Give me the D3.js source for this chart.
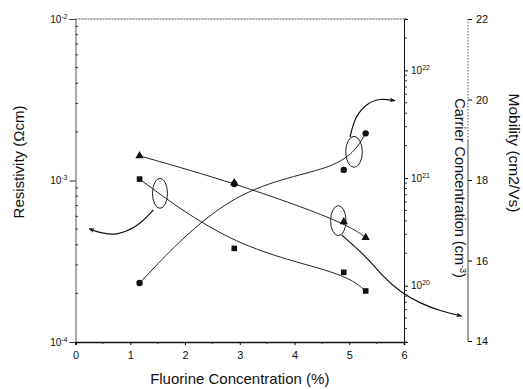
<!DOCTYPE html>
<html><head><meta charset="utf-8">
<script src="https://cdn.jsdelivr.net/npm/d3@7"></script>
<style>body{margin:0;background:#fff}svg{display:block}text{font-family:"Liberation Sans",Arial,sans-serif;fill:#111}</style>
</head><body><svg id="c" width="523" height="389"></svg>
<script>
// ---- data ----
const fluorine = [1.17, 2.9, 4.9, 5.3];               // %
const resistivity = [1.02e-3, 3.8e-4, 2.7e-4, 2.07e-4]; // ohm cm (squares)
const carrier = [1.06e20, 8.8e20, 1.19e21, 2.6e21];     // cm^-3 (circles)
const mobility = [18.6, 17.93, 16.96, 16.57];           // cm2/Vs (triangles)
const xTicks = [0, 1, 2, 3, 4, 5, 6];
const resTicks = [-4, -3, -2];      // exponents
const carTicks = [20, 21, 22];      // exponents
const mobTicks = [14, 16, 18, 20, 22];
// annotations (x in %, y in mobility units)
const ellipses = [
  {x: 1.543, y: 17.67, rx: 7.5, ry: 15},
  {x: 5.087, y: 18.70, rx: 8.3, ry: 15.5},
  {x: 4.80, y: 16.99, rx: 7.7, ry: 15}
];
const arrowRes = [[1.421,17.255],[1.15,16.85],[0.758,16.621],[0.447,16.683],[0.25,16.79]];
const arrowCar = [[5.014,19.068],[5.105,19.573],[5.319,19.906],[5.562,20.030],[5.836,19.970]];
const arrowMob = [[4.862,16.634],[5.319,16.087],[5.622,15.590],[5.927,15.225],[6.292,14.937],[6.658,14.746],[7.054,14.621]];

const svg = d3.select("#c");
const L = 75.5, R = 404, T = 19, B = 342, MX = 468;
const x = d3.scaleLinear().domain([0, 6]).range([L, R]);
const yRes = d3.scaleLog().domain([1e-4, 1e-2]).range([B, T]);
const yCar = d3.scaleLog().domain([3e19, 3e22]).range([B, T]);
const yMob = d3.scaleLinear().domain([14, 22]).range([B - 1, T]);

svg.append("defs").append("marker").attr("id","ah").attr("viewBox","0 0 10 10")
  .attr("refX",9).attr("refY",5).attr("markerWidth",6).attr("markerHeight",6)
  .attr("orient","auto").attr("markerUnits","userSpaceOnUse")
  .append("path").attr("d","M0,1 L10,5 L0,9 L3,5 Z").attr("fill","#111");

function supLabel(sel, base, exp, fs) {
  sel.text(null);
  sel.append("tspan").text(base);
  sel.append("tspan").attr("dy", -4).attr("font-size", fs).text(exp);
}

// top dashed border
svg.append("line").attr("x1", L).attr("x2", R).attr("y1", T).attr("y2", T)
  .attr("stroke", "#444").attr("stroke-dasharray", "2,1").attr("stroke-width", 1);

// left axis
const gL = svg.append("g").attr("transform", `translate(${L},0)`)
  .call(d3.axisLeft(yRes).tickValues(resTicks.map(e => Math.pow(10, e))).tickSize(6).tickFormat(""));
gL.select(".domain").attr("stroke", "#555");
gL.selectAll(".tick line").attr("stroke", "#333");
gL.selectAll(".tick").append("text").attr("x", -8).attr("dy", "0.32em").attr("text-anchor", "end")
  .attr("font-size", 10).each(function(d){ supLabel(d3.select(this), "10", String(Math.round(Math.log10(d))), 7); });
const resMinor = [];
for (let e = -4; e < -2; e++) for (let m = 2; m <= 9; m++) resMinor.push(m * Math.pow(10, e));
svg.append("g").selectAll("line").data(resMinor).join("line")
  .attr("x1", L).attr("x2", L + 2.5).attr("y1", d => yRes(d)).attr("y2", d => yRes(d)).attr("stroke", "#333");

// bottom axis
const gB = svg.append("g").attr("transform", `translate(0,${B})`)
  .call(d3.axisBottom(x).tickValues(xTicks).tickSize(3).tickPadding(6).tickFormat(d3.format("d")));
gB.select(".domain").attr("stroke", "#111").attr("stroke-width", 1.5);
gB.selectAll(".tick text").attr("font-size", 11).style("font-family", '"Liberation Sans",Arial,sans-serif');
svg.append("g").selectAll("line").data(xTicks.slice(0, -1).map(d => d + 0.5)).join("line")
  .attr("x1", d => x(d)).attr("x2", d => x(d)).attr("y1", B).attr("y2", B + 2).attr("stroke", "#333");

// carrier axis (right)
const gC = svg.append("g").attr("transform", `translate(${R},0)`)
  .call(d3.axisRight(yCar).tickValues(carTicks.map(e => Math.pow(10, e))).tickSize(4).tickFormat(""));
gC.select(".domain").attr("stroke", "#111");
gC.selectAll(".tick").append("text").attr("x", 7).attr("dy", "0.32em").attr("text-anchor", "start")
  .attr("font-size", 10).each(function(d){ supLabel(d3.select(this), "10", String(Math.round(Math.log10(d))), 7); });
const carMinor = [];
for (let e = 19; e <= 22; e++) for (let m = 2; m <= 9; m++) { const v = m * Math.pow(10, e); if (v >= 3e19 && v <= 3e22) carMinor.push(v); }
svg.append("g").selectAll("line").data(carMinor).join("line")
  .attr("x1", R).attr("x2", R + 3).attr("y1", d => yCar(d)).attr("y2", d => yCar(d)).attr("stroke", "#333");

// mobility axis
const gM = svg.append("g").attr("transform", `translate(${MX},0)`)
  .call(d3.axisRight(yMob).tickValues(mobTicks).tickSize(4).tickPadding(4).tickFormat(d3.format("d")));
gM.select(".domain").remove();
gM.selectAll(".tick text").attr("font-size", 11).style("font-family", '"Liberation Sans",Arial,sans-serif');
svg.append("line").attr("x1", MX).attr("x2", MX).attr("y1", yMob(22)).attr("y2", yMob(19))
  .attr("stroke", "#555").attr("stroke-dasharray", "1.5,1.5");
svg.append("line").attr("x1", MX).attr("x2", MX).attr("y1", yMob(19)).attr("y2", yMob(14)).attr("stroke", "#444");

// axis titles
svg.append("text").attr("transform", "translate(24,162) rotate(-90)").attr("text-anchor", "middle")
  .attr("font-size", 15).text("Resistivity (Ωcm)");
svg.append("text").attr("x", (L + R) / 2).attr("y", 384).attr("text-anchor", "middle")
  .attr("font-size", 15).text("Fluorine Concentration (%)");
const tc = svg.append("text").attr("transform", "translate(455,188) rotate(90)").attr("text-anchor", "middle").attr("font-size", 14.5);
tc.append("tspan").text("Carrier Concentration (cm");
tc.append("tspan").attr("dy", -5).attr("font-size", 9).text("-3");
tc.append("tspan").attr("dy", 5).text(")");
svg.append("text").attr("transform", "translate(509,153) rotate(90)").attr("text-anchor", "middle")
  .attr("font-size", 15.5).text("Mobility (cm2/Vs)");

// curves
const lineRes = d3.line().x((d, i) => x(fluorine[i])).y(d => yRes(d)).curve(d3.curveBasis);
const lineCar = d3.line().x((d, i) => x(fluorine[i])).y(d => yCar(d)).curve(d3.curveBasis);
const lineMob = d3.line().x((d, i) => x(fluorine[i])).y(d => yMob(d)).curve(d3.curveBasis);
const lineAnn = d3.line().x(d => x(d[0])).y(d => yMob(d[1])).curve(d3.curveBasis);
svg.append("path").attr("d", lineRes(resistivity)).attr("fill", "none").attr("stroke", "#222").attr("stroke-width", 1);
svg.append("path").attr("d", lineCar(carrier)).attr("fill", "none").attr("stroke", "#222").attr("stroke-width", 1);
svg.append("path").attr("d", lineMob(mobility)).attr("fill", "none").attr("stroke", "#222").attr("stroke-width", 1);

// markers
svg.append("g").selectAll("rect").data(resistivity).join("rect")
  .attr("x", (d, i) => x(fluorine[i]) - 2.8).attr("y", d => yRes(d) - 2.8).attr("width", 5.6).attr("height", 5.6).attr("fill", "#111");
svg.append("g").selectAll("circle").data(carrier).join("circle")
  .attr("cx", (d, i) => x(fluorine[i])).attr("cy", d => yCar(d)).attr("r", 3.2).attr("fill", "#111");
svg.append("g").selectAll("path").data(mobility).join("path")
  .attr("transform", (d, i) => `translate(${x(fluorine[i])},${yMob(d)})`)
  .attr("d", d3.symbol(d3.symbolTriangle, 30)).attr("fill", "#111");

// annotations
svg.append("g").selectAll("ellipse").data(ellipses).join("ellipse")
  .attr("cx", d => x(d.x)).attr("cy", d => yMob(d.y)).attr("rx", d => d.rx).attr("ry", d => d.ry)
  .attr("fill", "none").attr("stroke", "#222").attr("stroke-width", 1);
[arrowRes, arrowCar, arrowMob].forEach(a => {
  svg.append("path").attr("d", lineAnn(a)).attr("fill", "none").attr("stroke", "#111")
    .attr("stroke-width", 1.2).attr("marker-end", "url(#ah)");
});
</script></body></html>
